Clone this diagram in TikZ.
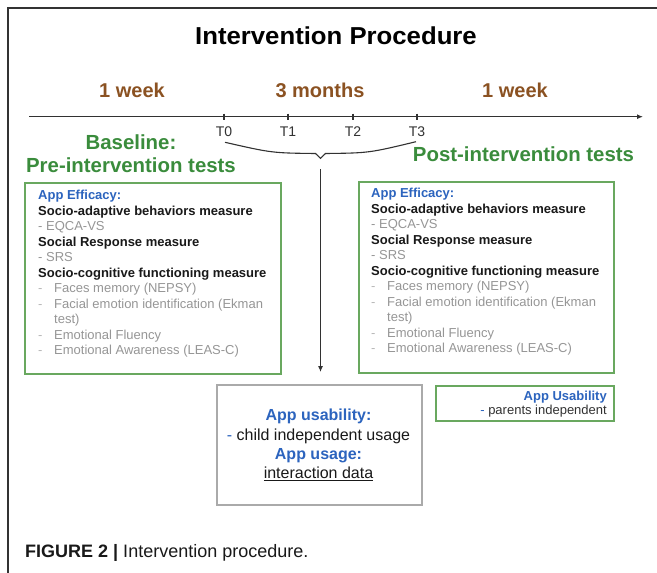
\documentclass[tikz,border=0pt]{standalone}
\usepackage{fontspec}
\setmainfont{Liberation Sans}
\newfontfamily\titlefont[FakeStretch=1.05]{Liberation Sans}
\usetikzlibrary{arrows.meta}
\definecolor{brn}{RGB}{139,82,34}
\definecolor{grn}{RGB}{58,140,60}
\definecolor{boxgrn}{RGB}{105,168,95}
\definecolor{appblue}{RGB}{44,100,190}
\definecolor{txtgray}{RGB}{150,150,150}
\definecolor{dashgray}{RGB}{185,185,185}
\definecolor{ink}{RGB}{25,25,25}
\definecolor{linegray}{RGB}{50,50,50}
\definecolor{boxgray}{RGB}{170,170,170}
\newcommand{\fsz}[2]{\fontsize{#1}{#2}\selectfont}
\newcommand{\litem}[1]{\makebox[16pt][l]{\color{dashgray}-}{\color{txtgray}#1}}
\begin{document}
\begin{tikzpicture}[x=1pt,y=-1pt,
  wk/.style={font=\bfseries\fsz{20}{24}, text=brn, anchor=base, inner sep=0},
  grnhead/.style={font=\bfseries\fsz{20.4}{24}, text=grn, anchor=base, inner sep=0},
  tlabel/.style={font=\fsz{14}{16}, text=linegray, anchor=base, inner sep=0},
  gbox/.style={draw=boxgrn, line width=1.5pt, anchor=north west, inner sep=0},
  graybox/.style={draw=boxgray, line width=1.5pt, anchor=north west, inner sep=0},
  boxtext/.style={font=\fsz{13}{15.5}, align=left, inner sep=0, text=ink},
  axisline/.style={draw=linegray, line width=1.4pt},
  thinline/.style={draw=linegray, line width=1.1pt},
]
\useasboundingbox (0,0) rectangle (657,573);
\fill[white] (0,0) rectangle (657,573);
% frame
\draw[draw=linegray, line width=1.5pt] (8,573) -- (8,8) -- (657,8);

% title
\node[font=\titlefont\bfseries\fsz{24.5}{28}, text=black, anchor=base, inner sep=0] (title) at (336,44.3) {Intervention Procedure};

% durations
\node[wk] (w1) at (132,97.5) {1 week};
\node[wk] (m3) at (320,97.5) {3 months};
\node[wk] (w2) at (515,97.5) {1 week};

% time axis
\coordinate (axs) at (29,116.7);
\coordinate (axe) at (643,116.7);
\draw[axisline, -{Latex[length=6pt,width=5pt]}] (axs) -- (axe);
\foreach \x/\n in {224/0,288/1,353/2,417/3}{
  \draw[thinline] (\x,113.5) -- (\x,120);
  \node[tlabel] (T\n) at (\x,136.5) {T\n};
}

% bracket
\draw[thinline] (225,142.3) .. controls (272,153) .. (315.5,153.5) -- (320.5,158.3) -- (325.5,153.5) .. controls (369,153) .. (416,141.7);

% vertical arrow
\coordinate (vs) at (320.5,169);
\coordinate (ve) at (320.5,372);
\draw[thinline, -{Latex[length=6pt,width=5pt]}] (vs) -- (ve);

% headings
\node[grnhead] (bl) at (131,149) {Baseline:};
\node[grnhead] (pre) at (131,172.7) {Pre-intervention tests};
\node[grnhead] (post) at (523.5,161.7) {Post-intervention tests};

% left box
\node[gbox, minimum width=256pt, minimum height=191pt] (lbox) at (24,182) {};
\node[boxtext, anchor=north west] (ltxt) at (38,190) {%
{\color{appblue}\bfseries App Efficacy:}\\
{\bfseries Socio-adaptive behaviors measure}\\
{\color{txtgray}- EQCA-VS}\\
{\bfseries Social Response measure}\\
{\color{txtgray}- SRS}\\
{\bfseries Socio-cognitive functioning measure}\\
\litem{Faces memory (NEPSY)}\\
\litem{Facial emotion identification (Ekman}\\
\hspace*{16pt}{\color{txtgray}test)}\\
\litem{Emotional Fluency}\\
\litem{Emotional Awareness (LEAS-C)}};

% right box
\node[gbox, minimum width=255pt, minimum height=191pt] (rbox) at (358,181) {};
\node[boxtext, anchor=north west] (rtxt) at (371,188) {%
{\color{appblue}\bfseries App Efficacy:}\\
{\bfseries Socio-adaptive behaviors measure}\\
{\color{txtgray}- EQCA-VS}\\
{\bfseries Social Response measure}\\
{\color{txtgray}- SRS}\\
{\bfseries Socio-cognitive functioning measure}\\
\litem{Faces memory (NEPSY)}\\
\litem{Facial emotion identification (Ekman}\\
\hspace*{16pt}{\color{txtgray}test)}\\
\litem{Emotional Fluency}\\
\litem{Emotional Awareness (LEAS-C)}};

% app usability (parents) box
\node[gbox, minimum width=178pt, minimum height=35pt] (ubox) at (435,385) {};
\node[font=\fsz{13}{14}, align=right, inner sep=0, anchor=north east, text=linegray] (utxt) at (607,391.2) {%
{\color{appblue}\bfseries App Usability}\\
{\color{appblue}-} parents independent};

% gray box
\node[graybox, minimum width=205pt, minimum height=120pt] (cbox) at (216,384) {};
\node[font=\fsz{16}{19.3}, align=center, inner sep=0, anchor=north, text=ink] (ctxt) at (318.5,409) {%
{\color{appblue}\bfseries App usability:}\\
{\color{appblue}-} child independent usage\\
{\color{appblue}\bfseries App usage:}\\
\underline{interaction data}};

% caption
\node[font=\fsz{18}{20}, text=ink, anchor=base west, inner sep=0] (cap) at (25,557.5) {\textbf{FIGURE 2 |} Intervention procedure.};
\end{tikzpicture}
\end{document}
